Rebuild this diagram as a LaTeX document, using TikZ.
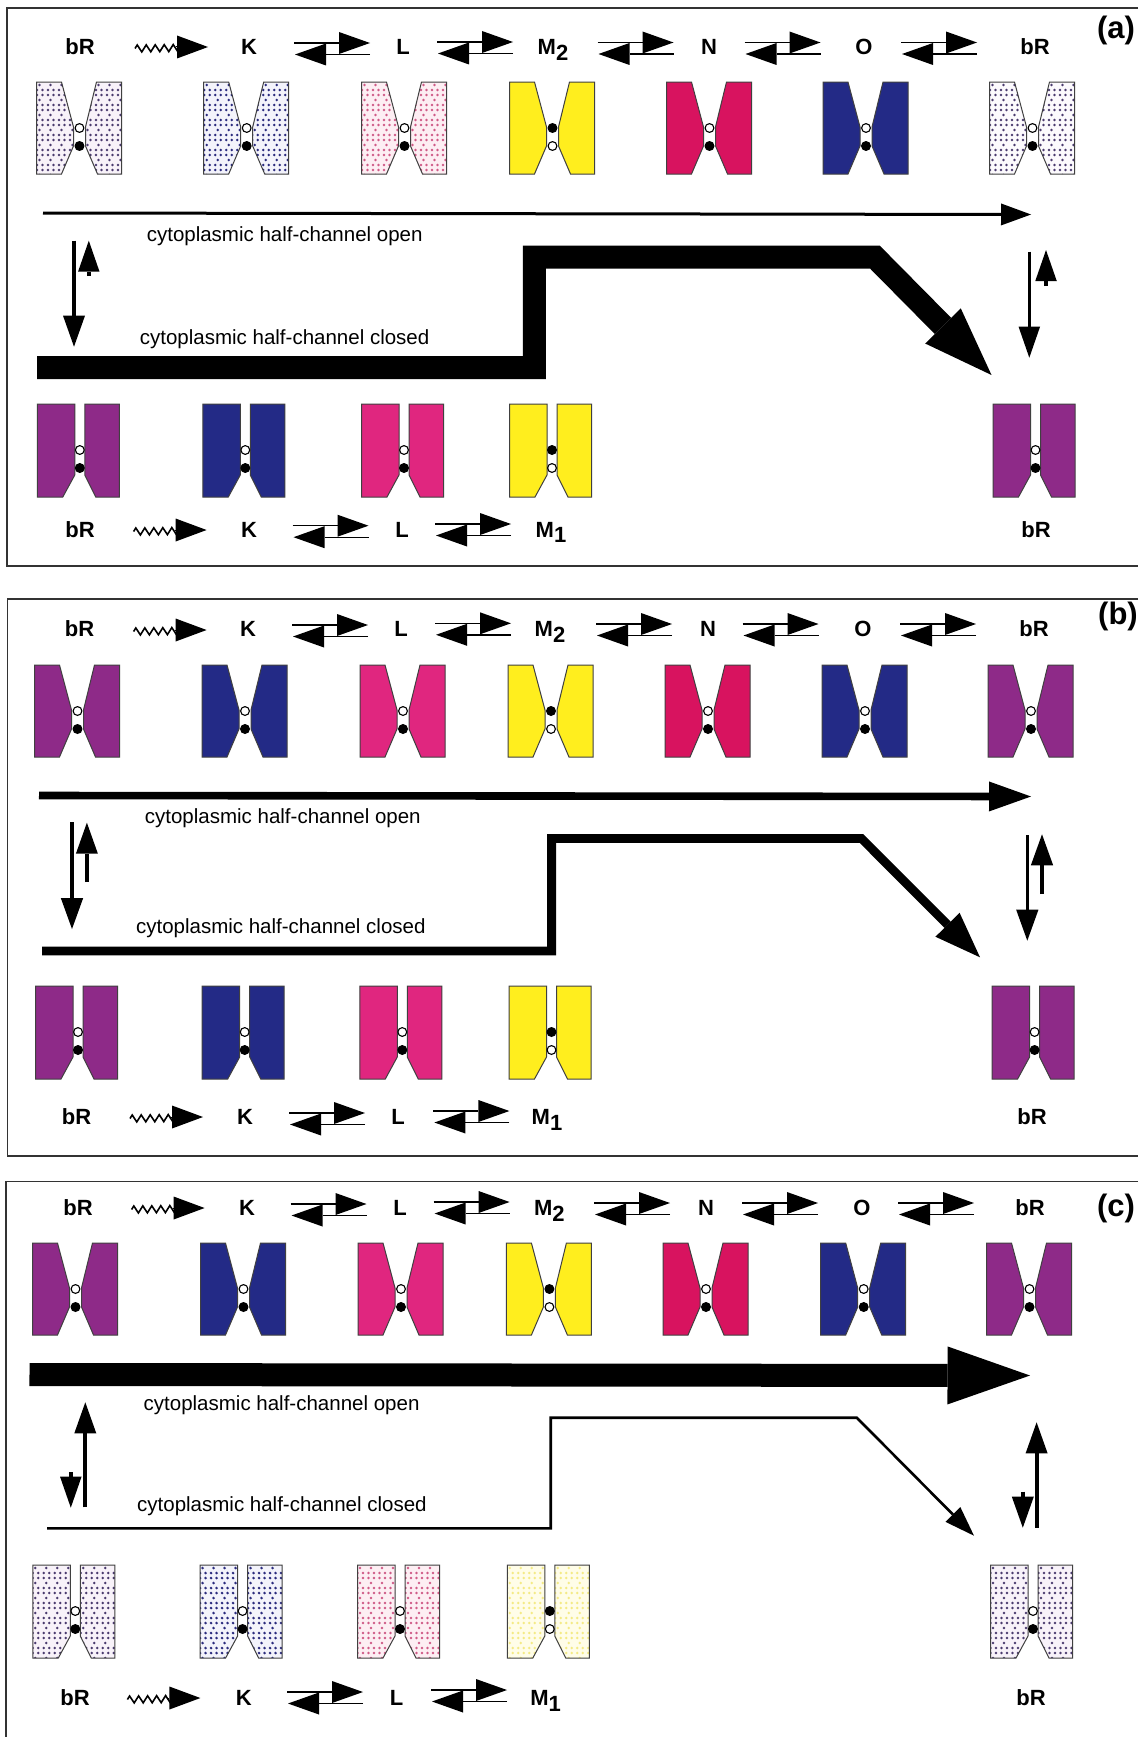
\documentclass[tikz,border=0pt]{standalone}
\usepackage{fontspec}
\setmainfont{Liberation Sans}
\usetikzlibrary{arrows.meta,decorations.pathmorphing}

\definecolor{brPurple}{HTML}{8E2A88}
\definecolor{kBlue}{HTML}{232A86}
\definecolor{lPink}{HTML}{E0267F}
\definecolor{mYellow}{HTML}{FFEE1E}
\definecolor{nCrimson}{HTML}{D8135F}
\definecolor{brPale}{HTML}{F8F2F9}
\definecolor{kPale}{HTML}{F3F3FB}
\definecolor{lPale}{HTML}{FDEEF3}
\definecolor{mPale}{HTML}{FFFDE8}
\definecolor{brDot}{HTML}{4A3A6E}
\definecolor{kDot}{HTML}{2B2B7E}
\definecolor{lDot}{HTML}{CF5A86}
\definecolor{mDot}{HTML}{F4EA85}

\tikzset{
  frameline/.style={draw=black!80,line width=1.3pt},
  halfbody/.style={draw=black!75,line width=1pt,line join=miter},
  state/.style={font=\fontsize{22pt}{24pt}\selectfont\bfseries,inner sep=0pt,anchor=base},
  panelmark/.style={font=\fontsize{31pt}{33pt}\selectfont\bfseries,inner sep=0pt},
  caption/.style={font=\fontsize{20.5pt}{22pt}\selectfont,inner sep=0pt,anchor=base west},
  eqline/.style={line width=1.4pt,-{Triangle[length=31pt,width=22pt,line width=0pt]}},
  wavehead/.style={line width=1pt,-{Triangle[length=31pt,width=23pt,line width=0pt]}},
  waveline/.style={line width=1.6pt,decorate,decoration={zigzag,segment length=9pt,amplitude=3.5pt}},
  pathline/.style={line join=miter,miter limit=10},
}

% Half-channel outlines: opening at both ends, or at the lower end only
\newcommand{\openL}[2]{(#1-43,#2) -- (#1-18,#2) -- (#1-6,#2+45) -- (#1-6,#2+64) -- (#1-18,#2+92) -- (#1-43,#2+92) -- cycle}
\newcommand{\openR}[2]{(#1+6,#2+45) -- (#1+17,#2) -- (#1+42,#2) -- (#1+42,#2+92) -- (#1+18,#2+92) -- (#1+6,#2+64) -- cycle}
\newcommand{\closedL}[2]{(#1-42.5,#2) -- (#1-5,#2) -- (#1-5,#2+71) -- (#1-17,#2+93) -- (#1-42.5,#2+93) -- cycle}
\newcommand{\closedR}[2]{(#1+5,#2) -- (#1+39.5,#2) -- (#1+39.5,#2+93) -- (#1+16,#2+93) -- (#1+5,#2+71) -- cycle}

% Two groups in the channel: upper / lower fill colours
\newcommand{\groups}[4]{%
  \filldraw[draw=black,line width=1.1pt,fill=#3] (#1,#2+46) circle (4.4);
  \filldraw[draw=black,line width=1.1pt,fill=#4] (#1,#2+64) circle (4.4);
}
% Solid molecule: shape, centre x, top y, colour, upper group, lower group
\newcommand{\molsolid}[6]{%
  \filldraw[halfbody,fill=#4] \csname #1L\endcsname{#2}{#3};
  \filldraw[halfbody,fill=#4] \csname #1R\endcsname{#2}{#3};
  \groups{#2}{#3}{#5}{#6}
}
% Rows of dots: two dense rows, then one sparse row
\newcommand{\dotfield}[3]{%
  \foreach \r in {0,...,18}{%
    \pgfmathtruncatemacro{\rowkind}{mod(\r,3)}%
    \ifnum\rowkind=0
      \foreach \c in {0,...,4}{\fill[#3] ({#1+3+11*\c},{#2+3+5*\r}) circle (1.4);}%
    \else
      \foreach \c in {0,...,8}{\fill[#3] ({#1+0.5+5.5*\c},{#2+3+5*\r}) circle (1.4);}%
    \fi}%
}
% Stippled molecule: shape, centre x, top y, paper colour, dot colour, upper group, lower group
\newcommand{\moldots}[7]{%
  \fill[#4] \csname #1L\endcsname{#2}{#3};
  \fill[#4] \csname #1R\endcsname{#2}{#3};
  \begin{scope}\clip \csname #1L\endcsname{#2}{#3};\dotfield{#2-43}{#3}{#5}\end{scope}
  \begin{scope}\clip \csname #1R\endcsname{#2}{#3};\dotfield{#2+5}{#3}{#5}\end{scope}
  \draw[halfbody] \csname #1L\endcsname{#2}{#3};
  \draw[halfbody] \csname #1R\endcsname{#2}{#3};
  \groups{#2}{#3}{#6}{#7}
}
% Reversible step: name, left x, upper line y
\newcommand{\eqarr}[3]{%
  \coordinate (#1-tl) at (#2,#3);
  \coordinate (#1-tr) at (#2+76,#3);
  \coordinate (#1-bl) at (#2+1,#3+11.5);
  \coordinate (#1-br) at (#2+76,#3+11.5);
  \draw[eqline] (#1-tl) -- (#1-tr);
  \draw[eqline] (#1-br) -- (#1-bl);
}
% Photoexcitation step: name, start x, head axis y
\newcommand{\wavearr}[3]{%
  \coordinate (#1-s) at (#2,#3+1.5);
  \coordinate (#1-m) at (#2+45,#3+1);
  \coordinate (#1-h) at (#2+41,#3);
  \coordinate (#1-e) at (#2+73,#3);
  \draw[waveline] (#1-s) -- (#1-m);
  \draw[wavehead] (#1-h) -- (#1-e);
}
% Vertical arrow: name, x, tail y, tip y, line width, head width
\newcommand{\varr}[6]{%
  \coordinate (#1-t) at (#2,#3);
  \coordinate (#1-e) at (#2,#4);
  \draw[line width=#5pt,-{Triangle[length=31pt,width=#6pt,line width=0pt]}] (#1-t) -- (#1-e);
}
\newcommand{\sub}[1]{\raisebox{-5.5pt}{#1}}

\begin{document}
\begin{tikzpicture}[x=1pt,y=-1pt]
\useasboundingbox (0,0) rectangle (1138,1737);
\fill[white] (0,0) rectangle (1138,1737);

% Panel frames
\draw[frameline] (1138,8) -- (7,8) -- (7,566) -- (1138,566);
\draw[frameline] (1138,599) -- (7.5,599) -- (7.5,1156) -- (1138,1156);
\draw[frameline] (1138,1181.5) -- (6,1181.5) -- (6,1737);
\node[panelmark] (marka) at (1116,30) {(a)};
\node[panelmark] (markb) at (1118,616) {(b)};
\node[panelmark] (markc) at (1116,1208) {(c)};

%%% Panel (a), upper cycle
\node[state] (a1) at (80,55) {bR};
\node[state] (a2) at (249,55) {K};
\node[state] (a3) at (403,55) {L};
\node[state] (a4) at (553,55) {M\sub{2}};
\node[state] (a5) at (709,55) {N};
\node[state] (a6) at (864,55) {O};
\node[state] (a7) at (1035,55) {bR};
\wavearr{aw}{135}{47}
\eqarr{ae1}{294}{43}
\eqarr{ae2}{437}{42}
\eqarr{ae3}{597.5}{42.5}
\eqarr{ae4}{744.5}{42.5}
\eqarr{ae5}{901}{42.5}
\moldots{open}{79.5}{82}{brPale}{brDot}{white}{black}
\moldots{open}{246.7}{82}{kPale}{kDot}{white}{black}
\moldots{open}{404.5}{82}{lPale}{lDot}{white}{black}
\molsolid{open}{552.5}{82}{mYellow}{black}{white}
\molsolid{open}{709.5}{82}{nCrimson}{white}{black}
\molsolid{open}{866}{82}{kBlue}{white}{black}
\moldots{open}{1032.5}{82}{brPale!40}{brDot}{white}{black}

%%% Panel (a), branch arrows
\coordinate (ao0) at (43,213);
\coordinate (ao1) at (1031,214.5);
\draw[line width=3pt,-{Triangle[length=30pt,width=22pt,line width=0pt]}] (ao0) -- (ao1);
\node[caption] (aco) at (146.6,241.7) {cytoplasmic half-channel open};
\node[caption] (acc) at (139.7,344) {cytoplasmic half-channel closed};
\coordinate (ac0) at (37,367.5);
\coordinate (ac1) at (534.3,367.5);
\coordinate (ac2) at (534.3,257.2);
\coordinate (ac3) at (875,257.2);
\coordinate (ac4) at (991.5,375);
\draw[pathline,line width=23pt,-{Triangle[length=69pt,width=50pt,line width=0pt]}] (ac0) -- (ac1) -- (ac2) -- (ac3) -- (ac4);
\varr{ald}{74}{240.7}{346.7}{3.5}{22}
\varr{alu}{88.8}{276}{240.7}{4.2}{21.5}
\varr{ard}{1029.3}{251.7}{357.7}{3.5}{21.5}
\varr{aru}{1046}{286}{250}{4.2}{21.5}

%%% Panel (a), lower cycle
\molsolid{closed}{79.8}{404}{brPurple}{white}{black}
\molsolid{closed}{245.3}{404}{kBlue}{white}{black}
\molsolid{closed}{404}{404}{lPink}{white}{black}
\molsolid{closed}{552}{404}{mYellow}{black}{white}
\molsolid{closed}{1035.5}{404}{brPurple}{white}{black}
\node[state] (a8) at (80,537.3) {bR};
\node[state] (a9) at (249,537.3) {K};
\node[state] (a10) at (402,537.3) {L};
\node[state] (a11) at (551,537.3) {M\sub{1}};
\node[state] (a12) at (1036,537.3) {bR};
\wavearr{awb}{133.6}{530}
\eqarr{ae6}{292.5}{525.7}
\eqarr{ae7}{435}{524}

%%% Panel (b), upper cycle
\node[state] (b1) at (79.5,636.7) {bR};
\node[state] (b2) at (248,636.7) {K};
\node[state] (b3) at (401,636.7) {L};
\node[state] (b4) at (550,636.7) {M\sub{2}};
\node[state] (b5) at (708,636.7) {N};
\node[state] (b6) at (863,636.7) {O};
\node[state] (b7) at (1034,636.7) {bR};
\wavearr{bw}{133.6}{630}
\eqarr{be1}{292}{625}
\eqarr{be2}{435}{623.3}
\eqarr{be3}{596}{624}
\eqarr{be4}{742.5}{624}
\eqarr{be5}{900}{624}
\molsolid{open}{77.5}{665}{brPurple}{white}{black}
\molsolid{open}{245}{665}{kBlue}{white}{black}
\molsolid{open}{403}{665}{lPink}{white}{black}
\molsolid{open}{551}{665}{mYellow}{black}{white}
\molsolid{open}{708}{665}{nCrimson}{white}{black}
\molsolid{open}{865}{665}{kBlue}{white}{black}
\molsolid{open}{1031}{665}{brPurple}{white}{black}

%%% Panel (b), branch arrows
\coordinate (bo0) at (39,795.5);
\coordinate (bo1) at (1031,796.5);
\draw[line width=7.6pt,-{Triangle[length=42pt,width=30pt,line width=0pt]}] (bo0) -- (bo1);
\node[caption] (bco) at (144.7,823.3) {cytoplasmic half-channel open};
\node[caption] (bcc) at (135.9,933.3) {cytoplasmic half-channel closed};
\coordinate (bc0) at (42,951);
\coordinate (bc1) at (551.6,951);
\coordinate (bc2) at (551.6,838.5);
\coordinate (bc3) at (861.5,838.5);
\coordinate (bc4) at (980,957.3);
\draw[pathline,line width=8.8pt,-{Triangle[length=46pt,width=34pt,line width=0pt]}] (bc0) -- (bc1) -- (bc2) -- (bc3) -- (bc4);
\varr{bld}{72}{822.3}{929}{3.5}{22.4}
\varr{blu}{86.9}{882}{822.7}{4.5}{22}
\varr{brd}{1027.3}{835}{940.7}{3}{22.3}
\varr{bru}{1042}{894}{834.3}{4.5}{22.3}

%%% Panel (b), lower cycle
\molsolid{closed}{78}{986}{brPurple}{white}{black}
\molsolid{closed}{244.7}{986}{kBlue}{white}{black}
\molsolid{closed}{402.3}{986}{lPink}{white}{black}
\molsolid{closed}{551.5}{986}{mYellow}{black}{white}
\molsolid{closed}{1034.6}{986}{brPurple}{white}{black}
\node[state] (b8) at (76.5,1124.5) {bR};
\node[state] (b9) at (245,1124.5) {K};
\node[state] (b10) at (398,1124.5) {L};
\node[state] (b11) at (547,1124.5) {M\sub{1}};
\node[state] (b12) at (1032,1124.5) {bR};
\wavearr{bwb}{130}{1117}
\eqarr{be6}{289}{1113}
\eqarr{be7}{433.4}{1111}

%%% Panel (c), upper cycle
\node[state] (c1) at (78,1215.7) {bR};
\node[state] (c2) at (247,1215.7) {K};
\node[state] (c3) at (400,1215.7) {L};
\node[state] (c4) at (549.4,1215.7) {M\sub{2}};
\node[state] (c5) at (706,1215.7) {N};
\node[state] (c6) at (862,1215.7) {O};
\node[state] (c7) at (1030,1215.7) {bR};
\wavearr{cw}{131.6}{1208}
\eqarr{ce1}{290.5}{1204}
\eqarr{ce2}{433.6}{1202}
\eqarr{ce3}{594}{1203}
\eqarr{ce4}{742}{1203}
\eqarr{ce5}{898}{1203}
\molsolid{open}{75.5}{1243}{brPurple}{white}{black}
\molsolid{open}{243.5}{1243}{kBlue}{white}{black}
\molsolid{open}{401}{1243}{lPink}{white}{black}
\molsolid{open}{549.4}{1243}{mYellow}{black}{white}
\molsolid{open}{706}{1243}{nCrimson}{white}{black}
\molsolid{open}{863.7}{1243}{kBlue}{white}{black}
\molsolid{open}{1029.5}{1243}{brPurple}{white}{black}

%%% Panel (c), branch arrows
\coordinate (co0) at (29.5,1374.5);
\coordinate (co1) at (1030,1375.5);
\draw[line width=23pt,-{Triangle[length=82.5pt,width=58pt,line width=0pt]}] (co0) -- (co1);
\node[caption] (cco) at (143.5,1410.7) {cytoplasmic half-channel open};
\node[caption] (ccc) at (137,1511.7) {cytoplasmic half-channel closed};
\coordinate (cc0) at (47,1528.3);
\coordinate (cc1) at (550.7,1528.3);
\coordinate (cc2) at (550.7,1417.7);
\coordinate (cc3) at (856.8,1417.7);
\coordinate (cc4) at (974,1535.7);
\draw[pathline,line width=2.6pt,-{Triangle[length=30pt,width=21pt,line width=0pt]}] (cc0) -- (cc1) -- (cc2) -- (cc3) -- (cc4);
\varr{cld}{70.8}{1472.3}{1507.7}{3.5}{21.5}
\varr{clu}{85.3}{1507.3}{1402.3}{4}{22}
\varr{crd}{1022.8}{1491.7}{1527.7}{3.5}{22}
\varr{cru}{1036.6}{1527.7}{1422.3}{4}{22}

%%% Panel (c), lower cycle
\moldots{closed}{75.3}{1565}{brPale}{brDot}{white}{black}
\moldots{closed}{242.6}{1565}{kPale}{kDot}{white}{black}
\moldots{closed}{400}{1565}{lPale}{lDot}{white}{black}
\moldots{closed}{549.8}{1565}{mPale}{mDot}{black}{white}
\moldots{closed}{1033}{1565}{brPale}{brDot}{white}{black}
\node[state] (c8) at (75,1705.7) {bR};
\node[state] (c9) at (243.8,1705.7) {K};
\node[state] (c10) at (396.7,1705.7) {L};
\node[state] (c11) at (545.6,1705.7) {M\sub{1}};
\node[state] (c12) at (1031,1705.7) {bR};
\wavearr{cwb}{127.4}{1698}
\eqarr{ce6}{287}{1692}
\eqarr{ce7}{431}{1690}
\end{tikzpicture}
\end{document}
